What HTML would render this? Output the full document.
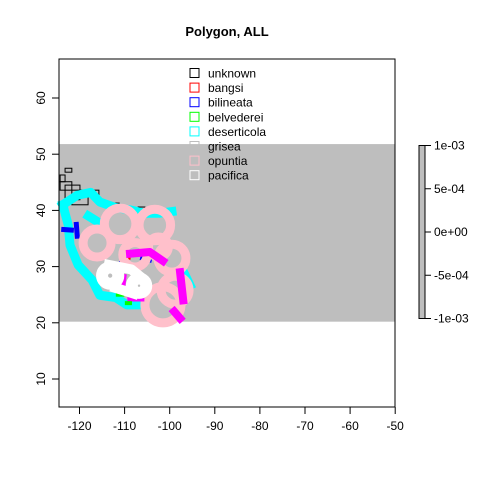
<!DOCTYPE html>
<html><head><meta charset="utf-8"><style>
body{margin:0;background:#fff}
svg{display:block;font-family:"Liberation Sans",Arial,sans-serif}
</style></head><body>
<svg id="c" width="480" height="480" viewBox="0 0 480 480">
<text x="227" y="36" text-anchor="middle" font-size="13" font-weight="bold">Polygon, ALL</text>
<g id="plot"></g>
</svg>
<script>
const xTicks=[-120,-110,-100,-90,-80,-70,-60,-50];
const yTicks=[10,20,30,40,50,60];
const band=[20.2,51.8];
const legendNames=["unknown","bangsi","bilineata","belvederei","deserticola","grisea","opuntia","pacifica"];
const legendColors=["#000000","#ff0000","#0000ff","#00ff00","#00ffff","#bebebe","#ffc0cb","#ffffff"];
const cbTicks=["1e-03","5e-04","0e+00","-5e-04","-1e-03"];
const cbValues=[0.001,0.0005,0,-0.0005,-0.001];
const unknownRects=[[-124.3,46.3,-123.2,45.1],[-124.3,45.1,-121.7,43.6],[-123.2,47.5,-121.7,46.8],[-123.2,44.5,-119.9,41.9],[-121.7,43.6,-118.1,41.0],[-117.2,43.6,-115.7,42.0],[-113.7,41.3,-111.2,40.4],[-107.0,40.6,-105.5,40.1],[-104.8,39.7,-103.7,39.2]];
const cyanLines=[[[-123.7,41.0],[-120.5,42.7],[-117.5,43.2],[-115.5,41.5],[-112,40.5],[-108.8,40.1],[-105.5,39.5],[-102.2,39.5],[-99.5,39.8]],[[-123.7,41.0],[-122.5,37.4],[-122.1,33.8],[-120.3,30.3],[-117.2,27.6],[-115.5,24.9],[-112,24.5],[-109.5,23.2],[-106.5,23.2]],[[-96.6,28.5],[-95.5,26.7]],[[-118,39],[-116,38]]];
const pinkRings=[[-116.1,34.2,3.1],[-111.0,37.6,3.5],[-103.3,37.4,3.5],[-99.5,31.5,3.1],[-98.8,25.8,3.1],[-101.5,23.2,4],[-107.7,32.1,2.7],[-102.5,33.5,2.2]];
const magentaLines=[[[-108.8,32.3],[-104.4,32.6],[-101.5,31.0]],[[-97.7,29.0],[-97.0,24.0]],[[-99.0,22.0],[-97.7,20.8]],[[-110.5,28.0],[-110.8,26.0]],[[-108.5,24.5],[-106.5,24.5]]];
const blueLines=[[[-123.5,36.6],[-121.8,36.5]],[[-120.7,37.5],[-120.5,35.4]],[[-106,31.5],[-104.5,31.2]],[[-101.5,33.2],[-100.5,33.0]],[[-110.5,31.0],[-109.5,30.5]],[[-97,26],[-96,25.5]]];
const redLines=[[[-114.5,30.2],[-113.5,30.2]],[[-110,31.5],[-109,31.5]]];
const greenLines=[[[-111.5,25.0],[-110.5,25.0]],[[-109.5,23.5],[-108.8,23.5]]];
const whiteRings=[[-113.2,28.4,1.8],[-106.8,26.6,1.6]];
const whiteLines=[[[-113.5,30.3],[-108.5,29.5],[-106.5,28.2]],[[-112,26.2],[-108,25.2]]];

const NS="http://www.w3.org/2000/svg";
const g=document.getElementById('plot');
const X0=59,X1=395,Y0=59,Y1=407;
const sx=v=>79.5+(v+120)*4.51;
const sy=v=>379-(v-10)*5.62;
function mk(t,a){const e=document.createElementNS(NS,t);for(const k in a)e.setAttribute(k,a[k]);g.appendChild(e);return e;}
let e;
e=mk('rect',{x:X0,y:sy(band[1]),width:X1-X0,height:sy(band[0])-sy(band[1]),fill:'#bebebe'});


function line(pts,col,w,name){const el=mk('polyline',{points:pts.map(p=>sx(p[0])+','+sy(p[1])).join(' '),fill:'none',stroke:col,'stroke-width':w,'stroke-linejoin':'round','stroke-linecap':'square'});

}
function ring(r,col,name,w){const el=mk('ellipse',{cx:sx(r[0]),cy:sy(r[1]),rx:r[2]*4.51,ry:r[2]*4.51,fill:'none',stroke:col,'stroke-width':w});

}
unknownRects.forEach(r=>{const el=mk('rect',{x:sx(r[0]),y:sy(r[1]),width:sx(r[2])-sx(r[0]),height:sy(r[3])-sy(r[1]),fill:'none',stroke:'#000','stroke-width':1});

});
cyanLines.forEach(p=>line(p,'#00ffff',9,'deserticola-polygon'));
blueLines.forEach(p=>line(p,'#0000ff',5,'bilineata-polygon'));
redLines.forEach(p=>line(p,'#ff0000',3,'bangsi-polygon'));
pinkRings.forEach(r=>ring(r,'#ffc0cb','opuntia-polygon',9));
magentaLines.forEach(p=>line(p,'#ff00ff',8,'magenta-polygon'));
greenLines.forEach(p=>line(p,'#00ff00',4,'belvederei-polygon'));
whiteLines.forEach(p=>line(p,'#ffffff',10,'pacifica-polygon'));
whiteRings.forEach(r=>ring(r,'#ffffff','pacifica-polygon',12));
e=mk('rect',{x:X0,y:Y0,width:X1-X0,height:Y1-Y0,fill:'none',stroke:'#000'});


mk('line',{x1:sx(xTicks[0]),x2:sx(xTicks[xTicks.length-1]),y1:Y1,y2:Y1,stroke:'#000'});
xTicks.forEach(v=>{mk('line',{x1:sx(v),x2:sx(v),y1:Y1,y2:Y1+7,stroke:'#000'});
const t=mk('text',{x:sx(v),y:Y1+23,'text-anchor':'middle','font-size':12});t.textContent=v;

});
yTicks.forEach(v=>{mk('line',{x1:X0,x2:X0-7,y1:sy(v),y2:sy(v),stroke:'#000'});
const t=mk('text',{x:0,y:0,'text-anchor':'middle','font-size':12,transform:`translate(${X0-14},${sy(v)}) rotate(-90)`});t.textContent=v;

});
legendNames.forEach((n,i)=>{const y=73+i*14.6;
const b=mk('rect',{x:190,y:y-4.5,width:9,height:9,fill:'none',stroke:legendColors[i]});


const t=mk('text',{x:208,y:y+4.5,'font-size':12});t.textContent=n;

});
const cy=v=>232-v/0.001*86.5;
e=mk('rect',{x:419,y:cy(0.001),width:6,height:cy(-0.001)-cy(0.001),fill:'#bebebe',stroke:'#000'});


cbValues.forEach((v,i)=>{mk('line',{x1:425,x2:431,y1:cy(v),y2:cy(v),stroke:'#000'});
const t=mk('text',{x:434,y:cy(v)+4,'font-size':12});t.textContent=cbTicks[i];

});
</script>
</body></html>
